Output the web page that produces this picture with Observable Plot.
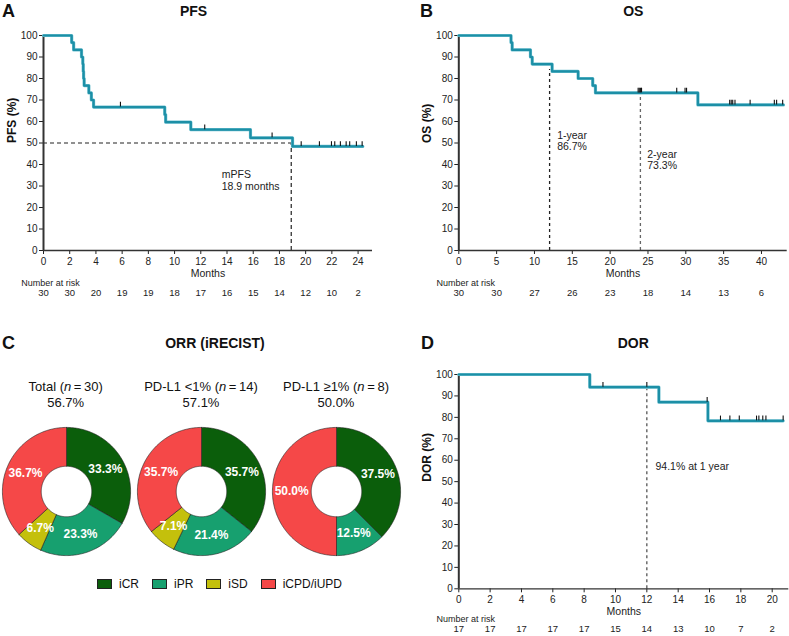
<!DOCTYPE html>
<html><head><meta charset="utf-8">
<script src="https://cdn.jsdelivr.net/npm/d3@7"></script>
<script src="https://cdn.jsdelivr.net/npm/@observablehq/plot@0.6"></script>
<style>
body{margin:0;background:#fff;font-family:"Liberation Sans",Arial,sans-serif;color:#111;}
#fig{position:relative;width:789px;height:636px;overflow:hidden;background:#fff;}
.abs{position:absolute;white-space:nowrap;line-height:1;}
.c{transform:translate(-50%,-50%);}
.l{transform:translate(0,-50%);}
.letter{font-weight:bold;font-size:18px;}
.title{font-weight:bold;font-size:14px;}
.sub{font-size:13px;}
.leg{position:absolute;left:97px;top:584px;transform:translateY(-50%);display:flex;font-size:12px;align-items:center;}
.leg span.sw{display:inline-block;width:13px;height:8px;border:0.7px solid #222;margin-right:7px;}
.leg span.it{display:flex;align-items:center;margin-right:13px;}
svg{overflow:visible;}
</style></head>
<body><div id="fig"></div>
<script>
// ---------- DATA ----------
const pfsTime = [0, 2.15, 2.3, 2.9, 3.0, 3.03, 3.06, 3.1, 3.46, 3.65, 3.82, 9.25, 9.32, 11.24, 15.79, 19.0, 24.36];
const pfsSurv = [100, 96.7, 93.3, 90.0, 86.7, 83.3, 80.0, 76.7, 73.3, 70.0, 66.7, 63.2, 59.7, 56.2, 52.4, 48.4, 48.4];
const pfsCensor = [5.87, 12.3, 17.44, 19.66, 21.05, 21.97, 22.22, 22.65, 23.09, 23.36, 23.87, 24.31];
const pfsRiskAt = [0, 2, 4, 6, 8, 10, 12, 14, 16, 18, 20, 22, 24];
const pfsRiskN = [30, 30, 20, 19, 19, 18, 17, 16, 15, 14, 12, 10, 2];
const pfsMedian = 18.9;

const osTime = [0, 6.9, 7.05, 9.47, 9.7, 12.33, 15.77, 17.7, 18.06, 31.6, 42.9];
const osSurv = [100, 96.7, 93.3, 90.0, 86.7, 83.3, 80.0, 76.7, 73.3, 67.7, 67.7];
const osCensor = [23.7, 23.85, 24.0, 24.15, 28.8, 29.9, 30.1, 35.8, 36.0, 36.2, 36.5, 38.5, 41.7, 42.0, 42.8];
const osRiskAt = [0, 5, 10, 15, 20, 25, 30, 35, 40];
const osRiskN = [30, 30, 27, 26, 23, 18, 14, 13, 6];
const osLandmarks = [12, 24];
const osLandmarkVals = [86.7, 73.3];

const dorTime = [0, 8.36, 12.77, 15.9, 20.7];
const dorSurv = [100, 94.1, 87.1, 78.4, 78.4];
const dorCensor = [9.2, 12.0, 15.85, 16.7, 17.3, 17.9, 19.0, 19.15, 19.4, 19.6, 20.7];
const dorRiskAt = [0, 2, 4, 6, 8, 10, 12, 14, 16, 18, 20];
const dorRiskN = [17, 17, 17, 17, 17, 15, 14, 13, 10, 7, 2];
const dorLandmark = 12;
const dorLandmarkVal = 94.1;

const orrGroups = ["Total", "PD-L1 <1%", "PD-L1 \u22651%"];
const orrN = [30, 14, 8];
const orrRate = ["56.7%", "57.1%", "50.0%"];
const respCats = ["iCR", "iPR", "iSD", "iCPD/iUPD"];
const respColors = ["#0b5e0b", "#17a06f", "#c4c00c", "#f54848"];
const respTotal = [33.3, 23.3, 6.7, 36.7];
const respLow = [35.7, 21.4, 7.1, 35.7];
const respHigh = [37.5, 12.5, 0, 50.0];

// ---------- HELPERS ----------
const TEAL = "#1c8fa6";
const FONT = "'Liberation Sans', Arial, sans-serif";
const fig = document.getElementById("fig");

function put(el, x, y) { el.style.left = x + "px"; el.style.top = y + "px"; fig.appendChild(el); return el; }
function txt(html, x, y, cls) { const d = document.createElement("div"); d.className = "abs " + cls; d.innerHTML = html; return put(d, x, y); }

function km(o) {
  const curve = o.time.map((t, i) => ({t, s: o.surv[i]}));
  const survAt = t => { let s = o.surv[0]; o.time.forEach((tt, i) => { if (tt <= t) s = o.surv[i]; }); return s; };
  const cens = o.censor.map(t => ({t, s: survAt(t)}));
  const risk = o.riskAt.map((t, i) => ({t, n: String(o.riskN[i])}));
  const bottom = o.riskDy;
  const chart = Plot.plot({
    width: o.width, height: o.height,
    marginLeft: o.ml, marginRight: o.mr, marginTop: o.mt, marginBottom: o.mb,
    style: {fontFamily: FONT, fontSize: "10px", color: "#222", background: "transparent", overflow: "visible"},
    x: {domain: [0, o.xMax], ticks: o.riskAt, tickSize: 4, tickPadding: 3, label: null},
    y: {domain: [0, 100], ticks: d3.range(0, 101, 10), tickSize: 4, tickPadding: 2, label: null},
    marks: [
      ...o.extra,
      Plot.ruleY([0], {stroke: "#333", strokeWidth: 1.3}),
      Plot.ruleX([0], {stroke: "#333", strokeWidth: 2}),
      Plot.line(curve, {x: "t", y: "s", curve: "step-after", stroke: "#6fc0d0", strokeWidth: 3.2}),
      Plot.line(curve, {x: "t", y: "s", curve: "step-after", stroke: TEAL, strokeWidth: 2.2}),
      Plot.ruleX(cens, {x: "t", y1: "s", y2: d => d.s + 2.2, stroke: "#111", strokeWidth: 1.1}),
      Plot.text([o.ylabel], {frameAnchor: "left", dx: o.yLabDx, rotate: -90, fontWeight: "bold", fontSize: 12, fill: "#111"}),
      Plot.text(["Months"], {frameAnchor: "bottom", dy: o.monthsDy, fontSize: 10.5}),
      Plot.text(["Number at risk"], {frameAnchor: "bottom-left", dx: -22.3, dy: bottom - 10, textAnchor: "start", fontSize: 9}),
      Plot.text(risk, {x: "t", text: "n", frameAnchor: "bottom", dy: bottom, fontSize: 9.5})
    ]
  });
  chart.style.position = "absolute";
  return put(chart, o.left, o.top);
}

// ---------- PANEL A: PFS ----------
km({
  left: 0, top: 0, width: 395, height: 300, ml: 43, mr: 23, mt: 35, mb: 50, xMax: 25.1,
  time: pfsTime, surv: pfsSurv, censor: pfsCensor, riskAt: pfsRiskAt, riskN: pfsRiskN,
  ylabel: "PFS (%)", yLabDx: -31, monthsDy: 26, riskDy: 45,
  extra: [
    Plot.ruleY([50], {x1: 0, x2: pfsMedian, stroke: "#222", strokeWidth: 1.2, strokeDasharray: "4,3"}),
    Plot.ruleX([pfsMedian], {y1: 0, y2: 50, stroke: "#222", strokeWidth: 1.2, strokeDasharray: "4,3"}),
    Plot.text(["mPFS\n" + pfsMedian + " months"], {x: 13.6, y: 32.6, textAnchor: "start", fontSize: 10.5, lineHeight: 1.1, fill: "#222"})
  ]
});
txt("A", 2, 11, "l letter");
txt("PFS", 193.5, 11, "c title");

// ---------- PANEL B: OS ----------
km({
  left: 395, top: 0, width: 394, height: 300, ml: 63.3, mr: 2.3, mt: 35, mb: 50, xMax: 43.4,
  time: osTime, surv: osSurv, censor: osCensor, riskAt: osRiskAt, riskN: osRiskN,
  ylabel: "OS (%)", yLabDx: -31.6, monthsDy: 26, riskDy: 45,
  extra: [
    Plot.ruleX([osLandmarks[0]], {y1: 0, y2: osLandmarkVals[0] - 2.5, stroke: "#222", strokeWidth: 1.3, strokeDasharray: "3,3"}),
    Plot.ruleX([osLandmarks[1]], {y1: 0, y2: osLandmarkVals[1] - 1, stroke: "#666", strokeWidth: 1.3, strokeDasharray: "3,3"}),
    Plot.text(["1-year\n" + osLandmarkVals[0] + "%"], {x: 13.0, y: 51.0, textAnchor: "start", fontSize: 10.5, lineHeight: 1.1, fill: "#222"}),
    Plot.text(["2-year\n" + osLandmarkVals[1] + "%"], {x: 24.9, y: 42.1, textAnchor: "start", fontSize: 10.5, lineHeight: 1.1, fill: "#222"})
  ]
});
txt("B", 420, 11, "l letter");
txt("OS", 633.3, 11, "c title");

// ---------- PANEL D: DOR ----------
km({
  left: 395, top: 300, width: 394, height: 336, ml: 63.3, mr: 0.7, mt: 74, mb: 47.7, xMax: 21.06,
  time: dorTime, surv: dorSurv, censor: dorCensor, riskAt: dorRiskAt, riskN: dorRiskN,
  ylabel: "DOR (%)", yLabDx: -32, monthsDy: 25.7, riskDy: 43.4,
  extra: [
    Plot.ruleX([dorLandmark], {y1: 0, y2: dorLandmarkVal - 1, stroke: "#555", strokeWidth: 1.3, strokeDasharray: "3,3"}),
    Plot.text([dorLandmarkVal + "% at 1 year"], {x: 12.55, y: 57.2, textAnchor: "start", fontSize: 10.5, fill: "#222"})
  ]
});
txt("D", 421, 343, "l letter");
txt("DOR", 633.3, 343, "c title");

// ---------- PANEL C: ORR donuts ----------
txt("C", 2, 343, "l letter");
txt("ORR (iRECIST)", 215, 343, "c title");

const R0 = 0.394;
function donut(vals, left, top) {
  const pts = [], labels = [];
  const sum = d3.sum(vals);
  let a0 = 0;
  vals.forEach((v, i) => {
    if (!v) return;
    const a1 = a0 + v / sum * 2 * Math.PI;
    const n = Math.max(2, Math.ceil((a1 - a0) / 0.02));
    const poly = [];
    for (let k = 0; k <= n; k++) { const a = a0 + (a1 - a0) * k / n; poly.push([Math.sin(a), Math.cos(a)]); }
    for (let k = n; k >= 0; k--) { const a = a0 + (a1 - a0) * k / n; poly.push([R0 * Math.sin(a), R0 * Math.cos(a)]); }
    poly.push(poly[0]);
    poly.forEach(p => pts.push({cat: respCats[i], x: p[0], y: p[1]}));
    const am = (a0 + a1) / 2;
    labels.push({x: 0.7 * Math.sin(am), y: 0.7 * Math.cos(am), t: v.toFixed(1) + "%"});
    a0 = a1;
  });
  const chart = Plot.plot({
    width: 132, height: 132, margin: 0,
    style: {fontFamily: FONT, background: "transparent", overflow: "visible"},
    x: {domain: [-1.03, 1.03], axis: null},
    y: {domain: [-1.03, 1.03], axis: null},
    color: {domain: respCats, range: respColors},
    marks: [
      Plot.line(pts, {x: "x", y: "y", z: "cat", fill: "cat", stroke: "#222", strokeWidth: 0.6}),
      Plot.text(labels, {x: "x", y: "y", text: "t", fill: "white", fontWeight: "bold", fontSize: 12})
    ]
  });
  chart.style.position = "absolute";
  put(chart, left, top);
}
const donutCx = [65.7, 201, 336];
[respTotal, respLow, respHigh].forEach((vals, g) => {
  donut(vals, donutCx[g] - 66, 491 - 66);
  txt(orrGroups[g] + " (<i>n</i>\u2009=\u2009" + orrN[g] + ")", donutCx[g], 386, "c sub");
  txt(orrRate[g], donutCx[g], 401.5, "c sub");
});

// legend
const leg = document.createElement("div");
leg.className = "leg";
respCats.forEach((c, i) => {
  const it = document.createElement("span");
  it.className = "it";
  it.innerHTML = `<span class="sw" style="background:${respColors[i]}"></span>${c}`;
  leg.appendChild(it);
});
fig.appendChild(leg);
</script>
</body></html>
